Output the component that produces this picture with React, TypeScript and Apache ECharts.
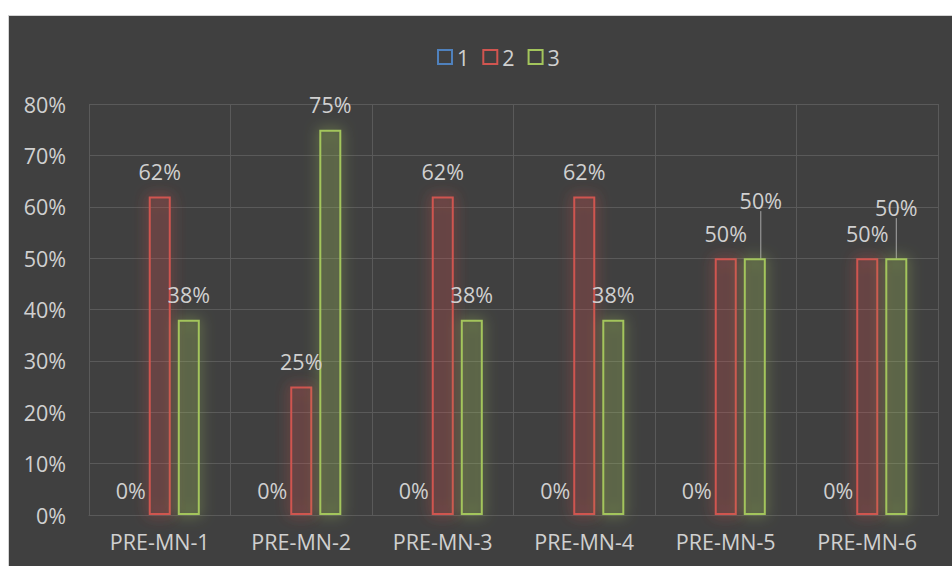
import React, { useEffect, useRef } from "react";
import * as echarts from "echarts";

const categories = ["PRE-MN-1", "PRE-MN-2", "PRE-MN-3", "PRE-MN-4", "PRE-MN-5", "PRE-MN-6"];
const series1 = [0, 0, 0, 0, 0, 0];
const series2 = [62, 25, 62, 62, 50, 50];
const series3 = [38, 75, 38, 38, 50, 50];
const seriesNames = ["1", "2", "3"];

const BLUE = "#4F81BD";
const RED = "#D05550";
const GREEN = "#A3C55C";
const TEXT = "#d0d0d0";
const GRIDLINE = "#5a5a5a";
const FONT = "'Open Sans', 'Noto Sans', sans-serif";
const FS = 21.5;

export default function App() {
  const ref = useRef<HTMLDivElement>(null);

  useEffect(() => {
    if (!ref.current) return;
    const chart = echarts.init(ref.current, null, { renderer: "svg" });

    const labelBase = {
      show: true,
      position: "top" as const,
      distance: 14,
      color: TEXT,
      fontSize: FS,
      fontFamily: FONT,
      formatter: "{c}%",
    };

    // green series: a few labels are nudged aside, two of them with leader lines
    const greenData = series3.map((v, i) => {
      if (i === 1) return { value: v, label: { offset: [26, 0] } };
      if (i === 4) return { value: v, labelLine: { show: true } };
      if (i === 5) return { value: v, labelLine: { show: true } };
      return { value: v };
    });

    chart.setOption({
      animation: false,
      backgroundColor: "#404040",
      textStyle: { fontFamily: FONT },
      legend: {
        top: 25,
        left: 423,
        itemWidth: 14,
        itemHeight: 14,
        itemGap: 13,
        icon: "rect",
        textStyle: { color: TEXT, fontSize: FS, fontFamily: FONT, padding: [0, 0, 0, 0] },
        data: [
          { name: seriesNames[0], itemStyle: { color: "transparent", borderColor: BLUE, borderWidth: 2, shadowBlur: 0 } },
          { name: seriesNames[1], itemStyle: { color: "transparent", borderColor: RED, borderWidth: 2, shadowBlur: 0 } },
          { name: seriesNames[2], itemStyle: { color: "transparent", borderColor: GREEN, borderWidth: 2, shadowBlur: 0 } },
        ],
      },
      grid: { left: 80, right: 14, top: 88, bottom: 51 },
      xAxis: {
        type: "category",
        data: categories,
        axisLine: { show: true, lineStyle: { color: GRIDLINE } },
        axisTick: { show: false },
        splitLine: { show: true, lineStyle: { color: GRIDLINE, width: 1 } },
        axisLabel: { color: TEXT, fontSize: FS, fontFamily: FONT, margin: 15 },
      },
      yAxis: {
        type: "value",
        min: 0,
        max: 80,
        interval: 10,
        axisLine: { show: false },
        axisTick: { show: false },
        splitLine: { lineStyle: { color: GRIDLINE, width: 1 } },
        axisLabel: { color: TEXT, fontSize: FS, fontFamily: FONT, formatter: "{value}%", margin: 23 },
      },
      series: [
        {
          name: seriesNames[0],
          type: "bar",
          barWidth: 22,
          barGap: "32%",
          data: series1,
          itemStyle: { color: "transparent", borderColor: BLUE, borderWidth: 0 },
          label: labelBase,
        },
        {
          name: seriesNames[1],
          type: "bar",
          barWidth: 22,
          barGap: "32%",
          data: series2,
          itemStyle: {
            color: "rgba(208,85,80,0.10)",
            borderColor: RED,
            borderWidth: 2,
            shadowBlur: 14,
            shadowColor: "rgba(220,80,75,1)",
          },
          label: labelBase,
        },
        {
          name: seriesNames[2],
          type: "bar",
          barWidth: 22,
          barGap: "32%",
          data: greenData,
          itemStyle: {
            color: "rgba(163,197,92,0.12)",
            borderColor: GREEN,
            borderWidth: 2,
            shadowBlur: 14,
            shadowColor: "rgba(163,197,92,1)",
          },
          label: labelBase,
          labelLine: { show: false, lineStyle: { color: "#a6a6a6", width: 1 } },
          labelLayout: (params: any) => {
            if (params.dataIndex === 4) return { dx: 6, dy: -33 };
            if (params.dataIndex === 5) return { dx: 0, dy: -26 };
            return {};
          },
        },
      ],
    });

    return () => chart.dispose();
  }, []);

  return (
    <div
      style={{
        position: "fixed",
        left: 8,
        top: 15,
        width: 944,
        height: 551,
        boxSizing: "border-box",
        borderTop: "1px solid #d4d4d4",
        borderLeft: "1px solid #d4d4d4",
        background: "#404040",
      }}
    >
      <div ref={ref} style={{ width: 943, height: 550 }} />
    </div>
  );
}
